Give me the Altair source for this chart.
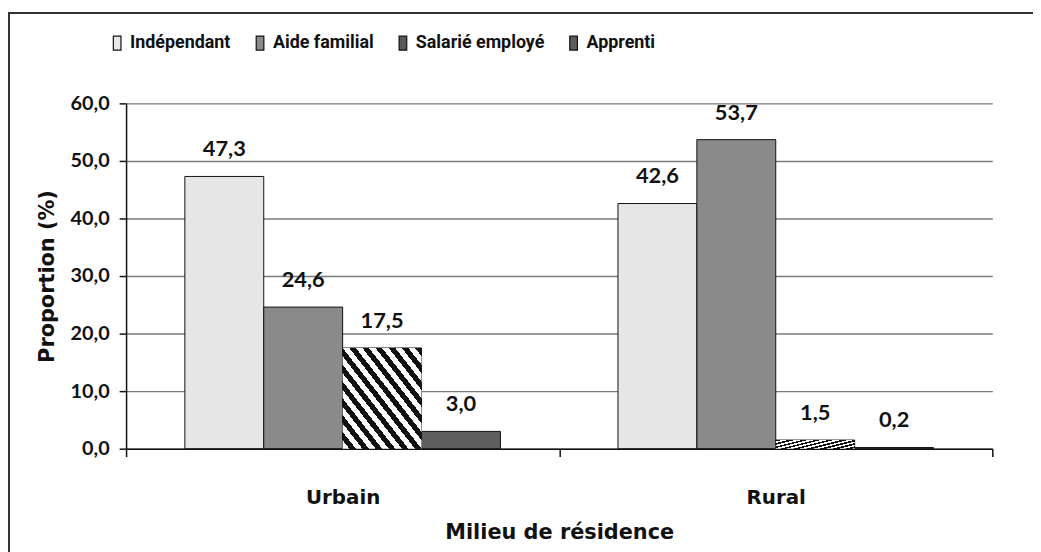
import altair as alt
import pandas as pd

milieux = ["Urbain", "Rural"]
statuts = ["Indépendant", "Aide familial", "Salarié employé", "Apprenti"]
urbain = [47.3, 24.6, 17.5, 3.0]
rural = [42.6, 53.7, 1.5, 0.2]
y_ticks = [0, 10, 20, 30, 40, 50, 60]
fills = ["#e6e6e6", "#8a8a8a", "#5a5a5a", "#5e5e5e"]

rows = []
for m, vals in zip(milieux, [urbain, rural]):
    for s, v in zip(statuts, vals):
        rows.append({"milieu": m, "statut": s, "valeur": v})
df = pd.DataFrame(rows)

NUM = "replace(format(datum.value, '.1f'), '.', ',')"

x_enc = alt.X(
    "milieu:N", sort=milieux,
    scale=alt.Scale(paddingInner=0, paddingOuter=0),
    axis=alt.Axis(
        title="Milieu de résidence", labelAngle=0, tickBand="extent",
        tickSize=8, tickColor="#111", tickWidth=1.5,
        domainColor="#111", domainWidth=1.5,
        labelFont="DejaVu Sans", labelFontSize=20, labelFontWeight="bold",
        labelColor="#111", labelPadding=31,
        titleFont="DejaVu Sans", titleFontSize=21, titleFontWeight="bold",
        titleColor="#111", titlePadding=15,
    ),
)
xo_enc = alt.XOffset(
    "statut:N", sort=statuts,
    scale=alt.Scale(domain=statuts, paddingInner=0, paddingOuter=0.745),
)


def y_enc(field):
    return alt.Y(
        field, scale=alt.Scale(domain=[0, 60], nice=False),
        axis=alt.Axis(
            title="Proportion (%)", values=y_ticks, labelExpr=NUM,
            tickSize=7, tickColor="#111", tickWidth=1.5,
            domainColor="#111", domainWidth=1.5,
            grid=True, gridColor="#7a7a7a", gridWidth=1.5,
            labelFont="Lato", labelFontSize=20, labelFontWeight="bold",
            labelColor="#111", labelPadding=10,
            titleFont="DejaVu Sans", titleFontSize=21, titleFontWeight="bold",
            titleColor="#111", titlePadding=13,
        ),
    )


frame = alt.Chart(alt.Data(values=[{"k": 1}])).mark_rect(
    fillOpacity=0, stroke="#333", strokeWidth=2
).encode(
    x=alt.value(-118), x2=alt.value(940), y=alt.value(-91), y2=alt.value(480)
)

bars = alt.Chart(df).mark_bar(stroke="#111", strokeWidth=1).encode(
    x=x_enc,
    xOffset=xo_enc,
    y=y_enc("valeur:Q"),
    color=alt.Color(
        "statut:N", sort=statuts,
        scale=alt.Scale(domain=statuts, range=fills),
        legend=alt.Legend(
            title=None, orient="none", legendX=-18, legendY=-70,
            direction="horizontal",
            symbolType="M-0.55,-1H0.55V1H-0.55Z", symbolSize=196,
            symbolStrokeColor="#111", symbolStrokeWidth=1.2, symbolOpacity=1,
            labelFont="Roboto", labelFontSize=18,
            labelFontWeight="bold", labelColor="#111",
            labelOffset=4, columnPadding=20,
        ),
    ),
)

stops = []
n = 12
for i in range(n):
    a = i / n
    b = (i + 0.5) / n
    c = (i + 1) / n
    stops += [
        alt.GradientStop(offset=a, color="#ffffff"),
        alt.GradientStop(offset=b, color="#ffffff"),
        alt.GradientStop(offset=b, color="#111111"),
        alt.GradientStop(offset=c, color="#111111"),
    ]

hatch = alt.Chart(df).transform_filter(
    alt.datum.statut == "Salarié employé"
).mark_bar(
    color=alt.LinearGradient(gradient="linear", x1=0, y1=1, x2=1, y2=0, stops=stops),
    strokeWidth=0,
).encode(x=x_enc, xOffset=xo_enc, y=y_enc("valeur:Q"))

labels = alt.Chart(df).transform_calculate(
    lab="replace(format(datum.valeur, '.1f'), '.', ',')",
    ly="datum.valeur + 4.7",
).mark_text(
    font="Lato", fontWeight="bold", fontSize=22, baseline="middle", color="#111"
).encode(x=x_enc, xOffset=xo_enc, y=y_enc("ly:Q"), text="lab:N")

chart = alt.layer(frame, bars, hatch, labels).properties(
    width=873, height=348,
    autosize=alt.AutoSizeParams(type="none"),
    padding={"left": 119, "top": 94, "right": 41, "bottom": 102},
    background="white",
).configure_view(stroke=None)

chart.save("out.html", embed_options={"renderer": "svg", "actions": False})
